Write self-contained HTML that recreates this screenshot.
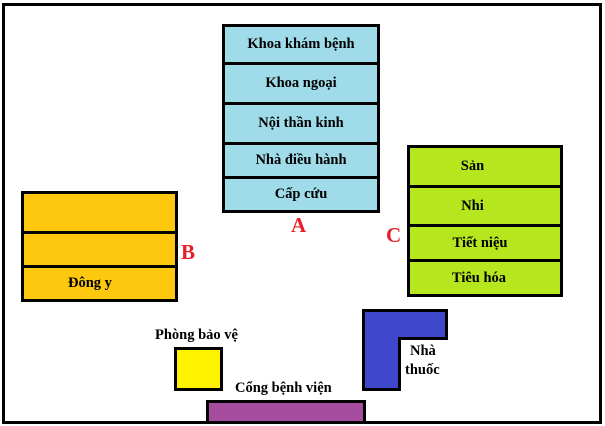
<!DOCTYPE html>
<html><head><meta charset="utf-8"><style>
body{margin:0;width:605px;height:426px;background:#fff;position:relative;overflow:hidden;font-family:"Liberation Serif",serif;font-weight:bold;font-size:14.5px}
div{position:absolute;box-sizing:border-box}
.b{border:3px solid #000}
.row{position:absolute;left:0;right:0;display:flex;align-items:center;justify-content:center;border-bottom:3px solid #000}
.t{position:absolute;white-space:nowrap}
.r{color:#e8202a;font-size:21px}
</style></head><body>
<div class="b" style="left:2px;top:3px;width:600px;height:421px"></div>
<div class="b" style="left:222px;top:24px;width:158px;height:189px;background:#9fdbe8">
 <div class="row" style="top:0;height:38px">Khoa khám bệnh</div>
 <div class="row" style="top:38px;height:40px">Khoa ngoại</div>
 <div class="row" style="top:78px;height:40px">Nội thần kinh</div>
 <div class="row" style="top:118px;height:34px">Nhà điều hành</div>
 <div class="row" style="top:152px;height:31px;border:none">Cấp cứu</div>
</div>
<div class="b" style="left:21px;top:191px;width:157px;height:111px;background:#fec80e">
 <div class="row" style="top:0;height:40px"></div>
 <div class="row" style="top:40px;height:34px"></div>
 <div class="t" style="left:44px;top:81px">Đông y</div>
</div>
<div class="b" style="left:407px;top:145px;width:156px;height:152px;background:#b6e61d">
 <div class="row" style="top:0;height:40px;padding-right:25px">Sản</div>
 <div class="row" style="top:40px;height:39px;padding-right:25px">Nhi</div>
 <div class="row" style="top:79px;height:35px;padding-right:10px">Tiết niệu</div>
 <div class="row" style="top:114px;height:32px;border:none;padding-right:12px">Tiêu hóa</div>
</div>
<div class="t r" style="left:291px;top:213px">A</div>
<div class="t r" style="left:181px;top:240px">B</div>
<div class="t r" style="left:386px;top:223px">C</div>
<div class="t" style="left:155px;top:327px">Phòng bảo vệ</div>
<div class="b" style="left:174px;top:347px;width:49px;height:44px;background:#fff200"></div>
<div class="t" style="left:235px;top:380px">Cổng bệnh viện</div>
<div class="b" style="left:206px;top:400px;width:160px;height:24px;background:#a64d9f"></div>
<svg style="position:absolute;left:0;top:0" width="605" height="426"><polygon points="363.5,310.5 446.5,310.5 446.5,338.5 399.5,338.5 399.5,389.5 363.5,389.5" fill="#3f47cc" stroke="#000" stroke-width="3"/></svg>
<div class="t" style="left:410px;top:343px">Nhà</div>
<div class="t" style="left:405px;top:362px">thuốc</div>
</body></html>
